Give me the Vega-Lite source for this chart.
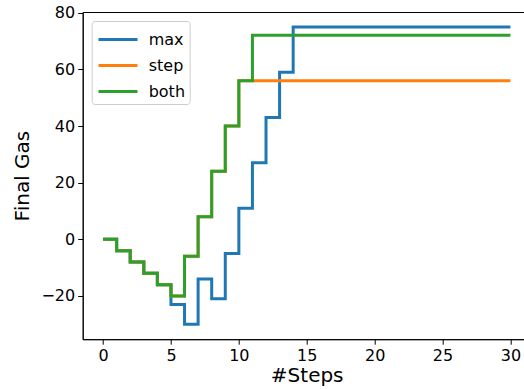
{
  "$schema": "https://vega.github.io/schema/vega-lite/v6.json",
  "autosize": {"type": "none"},
  "padding": {"left": 82.7, "top": 12, "right": 0, "bottom": 49.8},
  "width": 442,
  "height": 327.2,
  "config": {
    "font": "DejaVu Sans",
    "view": {"stroke": "black", "strokeWidth": 1},
    "axis": {"grid": false, "domainColor": "black", "tickColor": "black", "labelColor": "black", "titleColor": "black", "labelFont": "DejaVu Sans", "titleFont": "DejaVu Sans", "labelFontSize": 16, "titleFontSize": 20, "titleFontWeight": "normal", "tickSize": 5, "labelPadding": 3}
  },
  "data": {"values": [
    {"x": 0, "y": 0, "s": "max"}, {"x": 1, "y": -4, "s": "max"}, {"x": 2, "y": -8, "s": "max"}, {"x": 3, "y": -12, "s": "max"}, {"x": 4, "y": -16, "s": "max"}, {"x": 5, "y": -23, "s": "max"}, {"x": 6, "y": -30, "s": "max"}, {"x": 7, "y": -14, "s": "max"}, {"x": 8, "y": -21, "s": "max"}, {"x": 9, "y": -5, "s": "max"}, {"x": 10, "y": 11, "s": "max"}, {"x": 11, "y": 27, "s": "max"}, {"x": 12, "y": 43, "s": "max"}, {"x": 13, "y": 59, "s": "max"}, {"x": 14, "y": 75, "s": "max"}, {"x": 15, "y": 75, "s": "max"}, {"x": 16, "y": 75, "s": "max"}, {"x": 17, "y": 75, "s": "max"}, {"x": 18, "y": 75, "s": "max"}, {"x": 19, "y": 75, "s": "max"}, {"x": 20, "y": 75, "s": "max"}, {"x": 21, "y": 75, "s": "max"}, {"x": 22, "y": 75, "s": "max"}, {"x": 23, "y": 75, "s": "max"}, {"x": 24, "y": 75, "s": "max"}, {"x": 25, "y": 75, "s": "max"}, {"x": 26, "y": 75, "s": "max"}, {"x": 27, "y": 75, "s": "max"}, {"x": 28, "y": 75, "s": "max"}, {"x": 29, "y": 75, "s": "max"}, {"x": 30, "y": 75, "s": "max"},
    {"x": 0, "y": 0, "s": "step"}, {"x": 1, "y": -4, "s": "step"}, {"x": 2, "y": -8, "s": "step"}, {"x": 3, "y": -12, "s": "step"}, {"x": 4, "y": -16, "s": "step"}, {"x": 5, "y": -20, "s": "step"}, {"x": 6, "y": -6, "s": "step"}, {"x": 7, "y": 8, "s": "step"}, {"x": 8, "y": 24, "s": "step"}, {"x": 9, "y": 40, "s": "step"}, {"x": 10, "y": 56, "s": "step"}, {"x": 11, "y": 56, "s": "step"}, {"x": 12, "y": 56, "s": "step"}, {"x": 13, "y": 56, "s": "step"}, {"x": 14, "y": 56, "s": "step"}, {"x": 15, "y": 56, "s": "step"}, {"x": 16, "y": 56, "s": "step"}, {"x": 17, "y": 56, "s": "step"}, {"x": 18, "y": 56, "s": "step"}, {"x": 19, "y": 56, "s": "step"}, {"x": 20, "y": 56, "s": "step"}, {"x": 21, "y": 56, "s": "step"}, {"x": 22, "y": 56, "s": "step"}, {"x": 23, "y": 56, "s": "step"}, {"x": 24, "y": 56, "s": "step"}, {"x": 25, "y": 56, "s": "step"}, {"x": 26, "y": 56, "s": "step"}, {"x": 27, "y": 56, "s": "step"}, {"x": 28, "y": 56, "s": "step"}, {"x": 29, "y": 56, "s": "step"}, {"x": 30, "y": 56, "s": "step"},
    {"x": 0, "y": 0, "s": "both"}, {"x": 1, "y": -4, "s": "both"}, {"x": 2, "y": -8, "s": "both"}, {"x": 3, "y": -12, "s": "both"}, {"x": 4, "y": -16, "s": "both"}, {"x": 5, "y": -20, "s": "both"}, {"x": 6, "y": -6, "s": "both"}, {"x": 7, "y": 8, "s": "both"}, {"x": 8, "y": 24, "s": "both"}, {"x": 9, "y": 40, "s": "both"}, {"x": 10, "y": 56, "s": "both"}, {"x": 11, "y": 72, "s": "both"}, {"x": 12, "y": 72, "s": "both"}, {"x": 13, "y": 72, "s": "both"}, {"x": 14, "y": 72, "s": "both"}, {"x": 15, "y": 72, "s": "both"}, {"x": 16, "y": 72, "s": "both"}, {"x": 17, "y": 72, "s": "both"}, {"x": 18, "y": 72, "s": "both"}, {"x": 19, "y": 72, "s": "both"}, {"x": 20, "y": 72, "s": "both"}, {"x": 21, "y": 72, "s": "both"}, {"x": 22, "y": 72, "s": "both"}, {"x": 23, "y": 72, "s": "both"}, {"x": 24, "y": 72, "s": "both"}, {"x": 25, "y": 72, "s": "both"}, {"x": 26, "y": 72, "s": "both"}, {"x": 27, "y": 72, "s": "both"}, {"x": 28, "y": 72, "s": "both"}, {"x": 29, "y": 72, "s": "both"}, {"x": 30, "y": 72, "s": "both"}
  ]},
  "mark": {"type": "line", "interpolate": "step-after", "strokeWidth": 3, "clip": true},
  "encoding": {
    "x": {"field": "x", "type": "quantitative", "scale": {"domain": [-1.5, 31.05], "nice": false, "zero": false}, "axis": {"values": [0, 5, 10, 15, 20, 25, 30], "title": "#Steps", "titlePadding": 2, "titleX": 224}},
    "y": {"field": "y", "type": "quantitative", "scale": {"domain": [-35.25, 80.25], "nice": false, "zero": false}, "axis": {"values": [-20, 0, 20, 40, 60, 80], "title": "Final Gas", "labelExpr": "replace(datum.label, '-', '\u2212')", "titlePadding": 8}},
    "color": {"field": "s", "type": "nominal", "sort": ["max", "step", "both"], "scale": {"domain": ["max", "step", "both"], "range": ["#1f77b4", "#ff7f0e", "#2ca02c"]},
      "legend": {"title": null, "orient": "none", "legendX": 9, "legendY": 9, "symbolType": "M-0.9,0H2.1", "symbolSize": 676, "symbolStrokeWidth": 3, "symbolFillColor": "transparent", "labelFontSize": 16, "labelFont": "DejaVu Sans", "labelColor": "black", "labelOffset": 24, "labelExpr": "datum.label + ' '", "fillColor": "white", "strokeColor": "#cccccc", "cornerRadius": 3, "padding": 4, "rowPadding": 3}}
  }
}
